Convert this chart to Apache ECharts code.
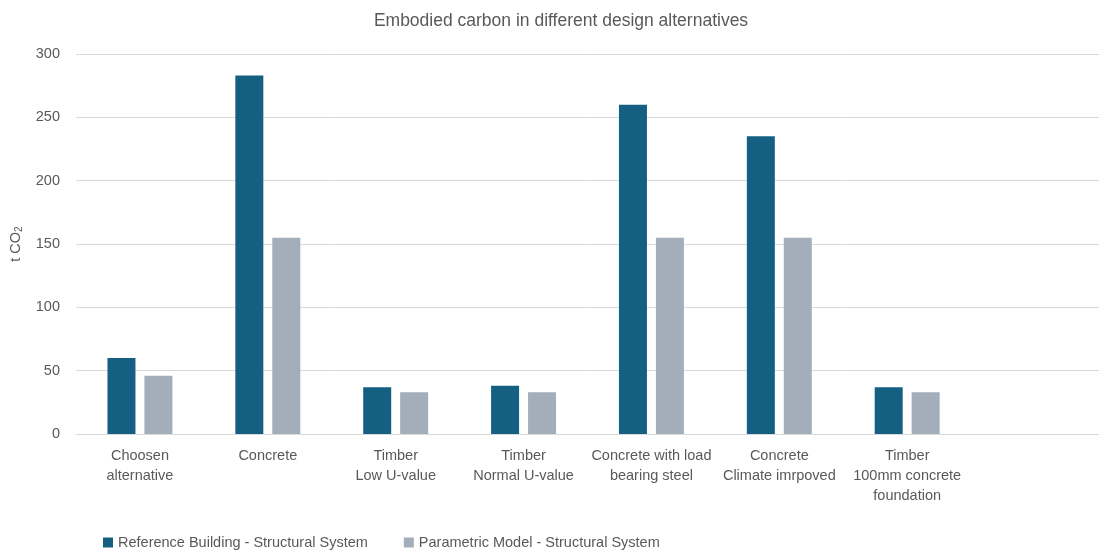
<!DOCTYPE html>
<html>
<head>
<meta charset="utf-8">
<script src="https://cdn.jsdelivr.net/npm/echarts@6/dist/echarts.min.js"></script>
<style>
  html, body { margin: 0; padding: 0; background: #fff; }
  #chart { width: 1099px; height: 554px; }
</style>
</head>
<body>
<div id="chart"></div>
<script>
// design alternatives (last slot is empty in the original chart)
const categories = [
  'Choosen\nalternative',
  'Concrete',
  'Timber\nLow U-value',
  'Timber\nNormal U-value',
  'Concrete with load\nbearing steel',
  'Concrete\nClimate imrpoved',
  'Timber\n100mm concrete\nfoundation',
  ''
];
const referenceBuilding = [60, 283, 37, 38, 260, 235, 37, null];
const parametricModel = [46, 155, 33, 33, 155, 155, 33, null];
const yTicks = [0, 50, 100, 150, 200, 250, 300];

const chart = echarts.init(document.getElementById('chart'));
const fontFamily = '"Liberation Sans", Roboto, sans-serif';

chart.setOption({
  textStyle: { fontFamily: fontFamily },
  title: {
    text: 'Embodied carbon in different design alternatives',
    left: 556,
    textAlign: 'center',
    top: 7,
    textStyle: { fontSize: 17.5, fontWeight: 'normal', color: '#595959', fontFamily: fontFamily }
  },
  legend: {
    left: 98,
    top: 530,
    itemWidth: 10,
    itemHeight: 10,
    itemGap: 36,
    icon: 'rect',
    textStyle: { fontSize: 14.5, color: '#595959', fontFamily: fontFamily },
    data: ['Reference Building - Structural System', 'Parametric Model - Structural System']
  },
  grid: { left: 76, right: 0, top: 54, bottom: 120, outerBoundsMode: 'none', containLabel: false },
  xAxis: {
    type: 'category',
    data: categories,
    axisTick: { show: false },
    axisLine: { lineStyle: { color: '#d9d9d9', width: 1 } },
    axisLabel: {
      interval: 0,
      color: '#595959',
      fontSize: 14.5,
      lineHeight: 20,
      margin: 12,
      fontFamily: fontFamily
    }
  },
  yAxis: {
    type: 'value',
    min: yTicks[0],
    max: yTicks[yTicks.length - 1],
    interval: 50,
    name: 't CO{sub|2}',
    nameLocation: 'middle',
    nameGap: 52,
    nameTextStyle: {
      fontSize: 14.5,
      color: '#595959',
      fontFamily: fontFamily,
      rich: {
        sub: { fontSize: 10, color: '#595959', fontFamily: fontFamily, verticalAlign: 'bottom', padding: [6, 0, 0, 0] }
      }
    },
    axisLine: { show: false },
    axisTick: { show: false },
    axisLabel: { color: '#595959', fontSize: 14.5, margin: 16, fontFamily: fontFamily },
    splitLine: { lineStyle: { color: '#d9d9d9', width: 1 } }
  },
  series: [
    {
      name: 'Reference Building - Structural System',
      type: 'bar',
      data: referenceBuilding,
      barWidth: 28,
      barGap: '32%',
      itemStyle: { color: '#156082' }
    },
    {
      name: 'Parametric Model - Structural System',
      type: 'bar',
      data: parametricModel,
      barWidth: 28,
      itemStyle: { color: '#a2afbb' }
    }
  ]
});
</script>
</body>
</html>
